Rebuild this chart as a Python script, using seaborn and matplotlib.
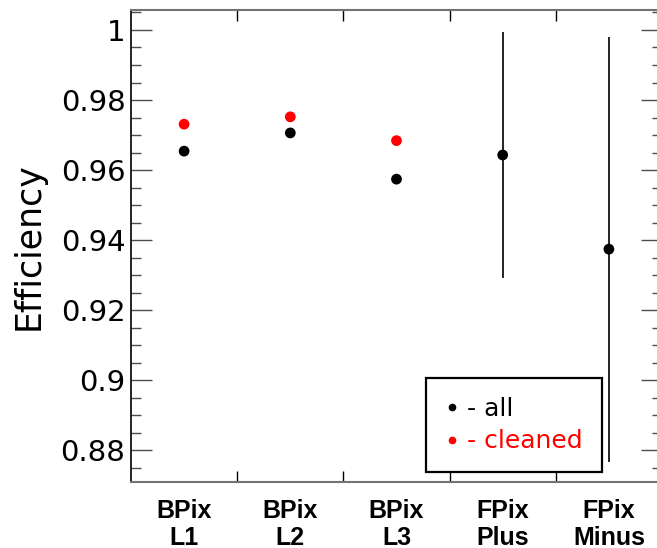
import numpy as np
import pandas as pd
import matplotlib
matplotlib.use("Agg")
import matplotlib.pyplot as plt
from matplotlib.lines import Line2D
from matplotlib.ticker import MultipleLocator, FixedLocator
import seaborn as sns

# data
categories = ["BPix\nL1", "BPix\nL2", "BPix\nL3", "FPix\nPlus", "FPix\nMinus"]
eff_all = [0.9654, 0.9706, 0.9574, 0.9643, 0.9374]
err_all = [0.0005, 0.0005, 0.0005, 0.0352, 0.0607]
eff_cleaned = [0.9731, 0.9752, 0.9684]

sns.set_style("ticks")
plt.rcParams["font.family"] = ["DejaVu Sans"]
plt.rcParams["text.color"] = "black"
plt.rcParams["axes.labelcolor"] = "black"
plt.rcParams["xtick.color"] = "black"
plt.rcParams["ytick.color"] = "black"

pos = np.arange(len(categories))
df = pd.DataFrame({
    "pos": np.concatenate([pos, pos[:len(eff_cleaned)]]),
    "eff": eff_all + eff_cleaned,
    "series": ["all"] * len(eff_all) + ["cleaned"] * len(eff_cleaned),
})

fig = plt.figure(figsize=(6.57, 5.48), dpi=100)
ax = fig.add_axes([0.1994, 0.1204, 0.8082, 0.8613])

ax.errorbar(pos, eff_all, yerr=err_all, fmt="none", ecolor="black",
            elinewidth=1.2, capsize=0, zorder=2)
sns.scatterplot(data=df, x="pos", y="eff", hue="series",
                palette={"all": "black", "cleaned": "red"},
                s=60, edgecolor="none", legend=False, ax=ax, zorder=3)

ax.set_xlim(-0.5, 4.5)
ax.set_ylim(0.8709, 1.0057)

# y axis: ticks on both sides, inward
ax.yaxis.set_minor_locator(MultipleLocator(0.005))
ax.set_yticks([0.88, 0.9, 0.92, 0.94, 0.96, 0.98, 1.0])
ax.set_yticklabels(["0.88", "0.9", "0.92", "0.94", "0.96", "0.98", "1"])
ax.tick_params(axis="y", which="major", direction="in", length=15, width=1,
               left=True, right=True, labelsize=21, pad=4, color="0.3")
ax.tick_params(axis="y", which="minor", direction="in", length=7.5, width=1,
               left=True, right=True, color="0.3")

# x axis: labels at centres, tick marks at bin edges
ax.xaxis.set_major_locator(FixedLocator(pos))
ax.set_xticklabels(categories, fontweight="bold", fontsize=18,
                   linespacing=1.15, family="Liberation Sans")
ax.xaxis.set_minor_locator(FixedLocator(pos[:-1] + 0.5))
ax.tick_params(axis="x", which="major", length=0, pad=12)
ax.tick_params(axis="x", which="minor", direction="in", length=8, width=1,
               top=True, bottom=True, color="black")

for side in ["left", "right"]:
    ax.spines[side].set_color("black")
    ax.spines[side].set_linewidth(1.2)
for side in ["top", "bottom"]:
    ax.spines[side].set_color("0.45")
    ax.spines[side].set_linewidth(1.5)

ax.set_xlabel("")
ax.set_ylabel("Efficiency", fontsize=25)
ax.yaxis.set_label_coords(-0.16, 0.5)

handles = [
    Line2D([], [], marker="o", linestyle="none", color="black", markersize=4.5),
    Line2D([], [], marker="o", linestyle="none", color="red", markersize=4.5),
]
leg = ax.legend(handles, ["- all", "- cleaned"], loc="lower left",
                bbox_to_anchor=(0.5556, 0.0212), borderaxespad=0,
                fontsize=18, labelcolor=["black", "red"], frameon=True,
                fancybox=False, framealpha=1, edgecolor="black",
                handlelength=0.6, handletextpad=0.3, borderpad=0.75,
                labelspacing=0.35)
leg.get_frame().set_linewidth(1.6)

fig.savefig("out.png", dpi=100)
